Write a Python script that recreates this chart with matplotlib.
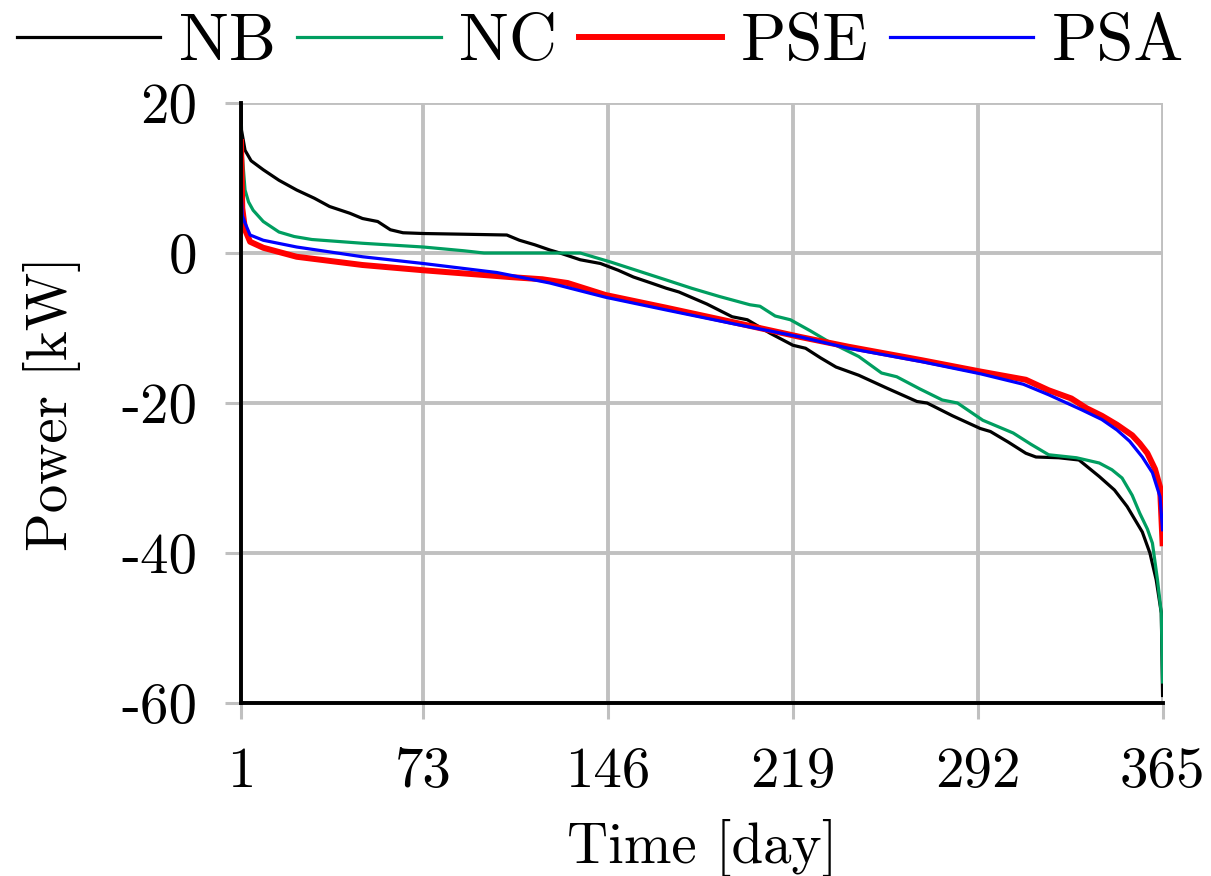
import matplotlib
matplotlib.use("Agg")
import matplotlib.pyplot as plt

plt.rcParams['font.family'] = ['cmr10', 'DejaVu Serif']
plt.rcParams['axes.formatter.use_mathtext'] = True
plt.rcParams['axes.unicode_minus'] = False

# ---- data ----
nb_day = [1, 1.2, 2.6, 5, 9.8, 16, 23, 30, 36, 44, 49, 55, 60, 65, 73, 90, 106, 111, 117, 123, 127, 135, 143, 150, 156, 163, 169, 174,
          185, 195, 201, 210, 219, 224, 230, 236, 245, 256, 268, 272, 282, 293, 297, 304, 311, 315, 324, 332, 340, 346, 351, 357, 360, 362.5, 364.5, 365]
nb_kw = [20, 16.4, 13.7, 12.3, 11.1, 9.7, 8.4, 7.3, 6.2, 5.3, 4.6, 4.2, 3.1, 2.7, 2.6, 2.5, 2.4, 1.7, 1.1, 0.4, 0.0, -0.9, -1.4, -2.3, -3.2, -4.0, -4.7, -5.2,
         -6.8, -8.5, -8.9, -10.7, -12.3, -12.7, -14.0, -15.2, -16.3, -18.0, -19.8, -20.0, -21.7, -23.4, -23.8, -25.2, -26.7, -27.2, -27.3, -27.6, -29.8, -31.6, -33.8, -37.2, -40.0, -43.6, -48, -59]

nc_day = [1, 1.3, 2.6, 4, 5.8, 9.8, 16, 22, 29, 49, 73, 89, 97, 135, 147, 158, 169, 179, 190, 202, 206, 212, 218, 226, 233,
          245, 254, 260, 269, 278, 284, 294, 306, 313, 320, 331, 340, 345, 349, 353, 356, 359, 361, 363, 364.5, 365]
nc_kw = [17, 14, 8.4, 6.8, 5.7, 4.2, 2.8, 2.2, 1.8, 1.3, 0.8, 0.3, 0.0, 0.0, -1.2, -2.4, -3.6, -4.7, -5.8, -6.9, -7.1, -8.4, -8.9, -10.4, -11.8,
         -13.8, -16.0, -16.5, -18.1, -19.6, -20.0, -22.3, -24.0, -25.5, -26.9, -27.3, -28.0, -28.9, -30.0, -32.3, -34.7, -36.8, -38.7, -43.6, -48, -57.2]

pse_day = [1, 1.5, 2.6, 4.6, 9.8, 23, 49, 73, 107, 120, 130, 145, 169, 195, 222, 241, 270, 293, 311, 320, 329,
           335, 341, 347, 353, 356, 359, 362, 364, 365]
pse_kw = [14.8, 6.0, 3.1, 1.5, 0.7, -0.5, -1.6, -2.3, -3.2, -3.5, -4.0, -5.6, -7.3, -9.2, -11.2, -12.5, -14.3, -15.8, -16.9, -18.3, -19.4,
          -20.7, -21.7, -22.9, -24.3, -25.4, -26.7, -28.8, -31.2, -38.7]

psa_day = [1, 1.5, 2.6, 4.6, 9.8, 23, 49, 73, 102, 123, 145, 169, 195, 222, 241, 270, 293, 310, 320, 333,
           341, 347, 352, 357, 361, 364, 365]
psa_kw = [8.6, 5.0, 4.0, 2.4, 1.7, 0.8, -0.5, -1.4, -2.6, -4.0, -5.9, -7.6, -9.4, -11.2, -12.7, -14.5, -16.1, -17.5, -18.9, -20.9,
          -22.2, -23.6, -25.1, -27.2, -29.3, -32.5, -36.9]

x_ticks = [1, 73, 146, 219, 292, 365]
y_ticks = [-60, -40, -20, 0, 20]
y_tick_labels = ['-60', '-40', '-20', '0', '20']

fig = plt.figure(figsize=(12.11, 8.76), dpi=100)
ax = fig.add_axes([0.199, 0.1975, 0.761, 0.6849])

grid_c = '#c0c0c0'
ax.plot(nb_day, nb_kw, color='black', lw=2.3, label='NB', zorder=3)
ax.plot(nc_day, nc_kw, color='#009E60', lw=2.3, label='NC', zorder=3)
ax.plot(pse_day, pse_kw, color='#ff0000', lw=4.3, label='PSE', zorder=3)
ax.plot(psa_day, psa_kw, color='#0000ff', lw=2.3, label='PSA', zorder=4)

ax.set_xlim(1, 365)
ax.set_ylim(-60, 20)
ax.set_xticks(x_ticks)
ax.set_xticklabels([str(t) for t in x_ticks])
ax.set_yticks(y_ticks)
ax.set_yticklabels(y_tick_labels)
ax.grid(True, color=grid_c, lw=2.8, zorder=0)
ax.set_axisbelow(True)
ax.tick_params(axis='both', direction='out', length=11.5, width=2.2, color=grid_c,
               labelsize=41, pad=20)

for s in ['top', 'right']:
    ax.spines[s].set_visible(False)
for s in ['left', 'bottom']:
    ax.spines[s].set_color('black')
    ax.spines[s].set_linewidth(2.8)
    ax.spines[s].set_zorder(5)

ax.set_xlabel('Time [day]', fontsize=41, labelpad=15)
ax.set_ylabel('Power [kW]', fontsize=41, labelpad=29)

leg = fig.legend(loc='upper center', bbox_to_anchor=(0.496, 1.03), ncol=4, frameon=False,
                 fontsize=48, handlelength=2.15, handletextpad=0.28, columnspacing=0.32,
                 borderaxespad=0.2)

fig.savefig('out.png', dpi=100)
